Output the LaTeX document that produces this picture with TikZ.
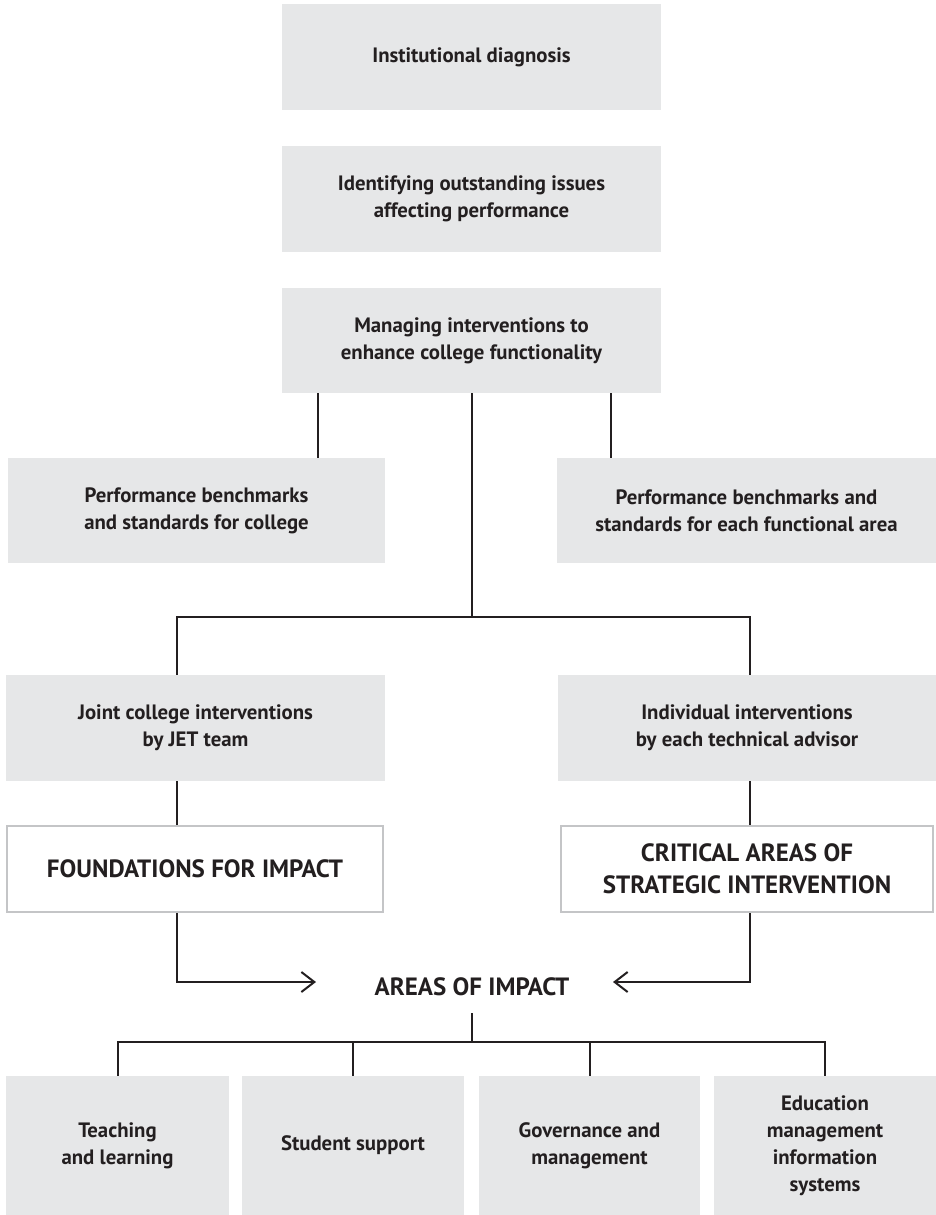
\documentclass[tikz,border=0pt]{standalone}
\usepackage{fontspec}
\setmainfont{PT Sans}
\usetikzlibrary{arrows.meta,calc}
\definecolor{boxgray}{HTML}{E6E7E8}
\definecolor{edgegray}{HTML}{C4C5C7}
\definecolor{ink}{HTML}{231F20}
\begin{document}
\begin{tikzpicture}[x=1pt,y=-1pt,
  txt/.style={font=\bfseries\fontsize{20.8}{27}\selectfont, text=ink, align=center},
  captxt/.style={font=\bfseries\fontsize{25}{32}\selectfont, text=ink, align=center},
  fillbox/.style={txt, fill=boxgray, draw=none, inner sep=0pt},
  outbox/.style={captxt, fill=white, draw=edgegray, line width=2pt, inner sep=0pt},
  conn/.style={draw=ink, line width=2pt},
  arr/.style={conn, -{Straight Barb[length=13pt,width=20pt]}}
]
\useasboundingbox (0,0) rectangle (936,1215);
% top chain
\node[fillbox, minimum width=379pt, minimum height=106pt] (diag) at (471.5,57) {Institutional diagnosis};
\node[fillbox, minimum width=379pt, minimum height=106pt] (ident) at (471.5,199) {Identifying outstanding issues\\affecting performance};
\node[fillbox, minimum width=379pt, minimum height=105pt] (manage) at (471.5,340.5) {Managing interventions to\\enhance college functionality};
% benchmarks
\node[fillbox, minimum width=377pt, minimum height=105pt] (benchL) at (196.5,510.5) {Performance benchmarks\\and standards for college};
\node[fillbox, minimum width=379pt, minimum height=105pt] (benchR) at (746.5,510.5) {Performance benchmarks and\\standards for each functional area};
% interventions
\node[fillbox, minimum width=379pt, minimum height=106pt] (joint) at (195.5,728) {Joint college interventions\\by JET team};
\node[fillbox, minimum width=378pt, minimum height=106pt] (indiv) at (747,728) {Individual interventions\\by each technical advisor};
% outlined boxes
\node[outbox, minimum width=376pt, minimum height=86pt] (found) at (195,869) {FOUNDATIONS FOR IMPACT};
\node[outbox, minimum width=372pt, minimum height=86pt] (crit) at (747,869) {CRITICAL AREAS OF\\STRATEGIC INTERVENTION};
% areas of impact
\node[captxt, inner sep=0pt, minimum height=52pt] (areas) at (472,987) {AREAS OF IMPACT};
% bottom boxes
\node[fillbox, minimum width=223pt, minimum height=139pt] (b1) at (117.5,1145.5) {Teaching\\and learning};
\node[fillbox, minimum width=222pt, minimum height=139pt] (b2) at (353,1145.5) {Student support};
\node[fillbox, minimum width=221pt, minimum height=139pt] (b3) at (589.5,1145.5) {Governance and\\management};
\node[fillbox, minimum width=222pt, minimum height=139pt] (b4) at (825,1145.5) {Education\\management\\information\\systems};
% helper coordinates
\coordinate (xa) at (318,0);
\coordinate (xb) at (611,0);
\coordinate (xJ) at (177,0);
\coordinate (xI) at (750,0);
\coordinate (jn) at (472,617);
\coordinate (tipL) at (316,982);
\coordinate (tipR) at (613,982);
\coordinate (bus) at (472,1042);
% connectors
\draw[conn] (manage.south -| xa) -- (benchL.north -| xa);
\draw[conn] (manage.south -| xb) -- (benchR.north -| xb);
\draw[conn] (manage.south) -- (manage.south |- jn);
\draw[conn] (joint.north -| xJ) |- (jn -| xI) -- (indiv.north -| xI);
\draw[conn] (joint.south -| xJ) -- (found.north -| xJ);
\draw[conn] (indiv.south -| xI) -- (crit.north -| xI);
\draw[arr] (found.south -| xJ) |- (tipL);
\draw[arr] (crit.south -| xI) |- (tipR);
\draw[conn] (areas.south) -- (areas.south |- bus);
\draw[conn] (b1.north) |- (bus) -| (b4.north);
\draw[conn] (b2.north) -- (b2.north |- bus);
\draw[conn] (b3.north) -- (b3.north |- bus);
\end{tikzpicture}
\end{document}
